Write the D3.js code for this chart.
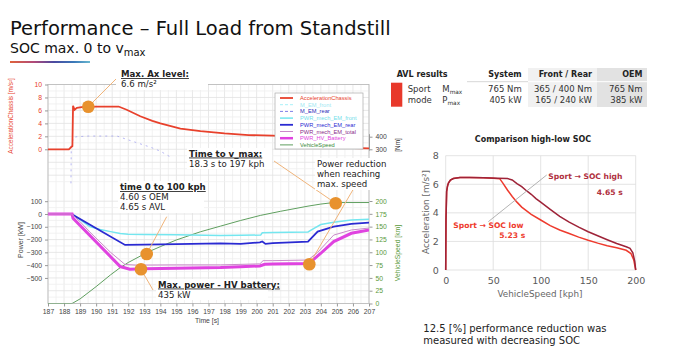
<!DOCTYPE html>
<html><head><meta charset="utf-8">
<script src="https://cdn.jsdelivr.net/npm/d3@7/dist/d3.min.js"></script>
<style>
body{margin:0;background:#fff}
svg{display:block;font-family:"DejaVu Sans",Verdana,sans-serif}
</style></head>
<body><svg id="c" width="676" height="359"></svg>
<script>
// ---------------- DATA ----------------
// Left chart: time axis [s]
const timeTicks = d3.range(187, 208, 1);
const accTicks = [0, 2, 4, 6, 8, 10];
const powTicks = [100, 0, -100, -200, -300, -400, -500];
const spdTicks = [0, 25, 50, 75, 100, 125, 150, 175, 200];
const nmTicks = [300, 400];

// AccelerationChassis [m/s²]
const tAcc = [187,188.3,188.45,188.52,188.56,188.66,188.8,189.2,190,191.4,191.9,192.75,193.5,194,195.25,196.5,198,199.5,201,202,203,203.8,204.5,205.2,206,207];
const accVals = [0,0,0.35,0.5,6.7,6.1,6.4,6.55,6.6,6.6,6.1,5.1,4.4,4.0,3.2,2.8,2.45,2.2,2.1,2.0,1.75,1.3,0.8,0.35,0.2,0.15];
// M_EM_rear [Nm]
const tNm = [188.43,188.45,188.6,188.8,189.5,190.5,191.3,192.3,193.4,194.0,194.6];
const nmVals = [30,330,395,400,405,405,405,362,316,285,241];
// PWR_mech_EM_front [kW]
const tFront = [187,188.5,189.0,189.6,190.25,190.9,191.5,192,193,195,197.75,199,200.25,200.35,201,203.2,203.6,204,204.8,205.9,207];
const pFront = [0,0,-45,-99,-122,-138,-152,-158,-160,-162,-168,-166,-165,-147,-145,-140,-110,-82,-65,-47,-42];
// PWR_mech_EM_rear [kW]
const tRear = [187,188.45,191.8,193,195,197.75,199,200.2,200.35,200.55,201,203.2,203.8,204.8,205.9,207];
const pRear = [0,0,-242,-240,-236,-230,-233,-222,-215,-234,-228,-217,-138,-99,-78,-68];
// PWR_mech_EM_total [kW]
const tTotal = [187,188.45,189,189.6,190.9,191.8,192.5,195,197.75,200.2,200.4,201,203.2,203.8,204.8,205.9,207];
const pTotal = [0,0,-60,-140,-300,-395,-400,-398,-398,-390,-365,-365,-360,-300,-165,-125,-110];
// PWR_HV_Battery [kW]
const tBatt = [187,188.5,188.56,191.5,192.1,193,195,197.75,199,200.2,200.5,201,203.2,203.5,204,204.8,205.9,207];
const pBatt = [0,0,-34,-411,-432,-428,-425,-419,-412,-406,-393,-392,-388,-360,-307,-216,-151,-125];
// VehicleSpeed [kph]
const tSpd = [187,188.5,189,189.5,190,190.9,191.5,192,193.2,194,195,196.5,197.75,199,200.25,201.5,203.2,204,204.8,205.5,207];
const spdVals = [0,0,9,21,33,56,70,80,100,111,124,140,151,162,172,180,190,194,197,197,197];

const legendNames = ["AccelerationChassis","M_EM_front","M_EM_rear","PWR_mech_EM_front","PWR_mech_EM_rear","PWR_mech_EM_total","PWR_HV_Battery","VehicleSpeed"];

// Right chart: acceleration vs vehicle speed
const rxTicks = [0, 50, 100, 150, 200];
const ryTicks = [0, 2, 4, 6, 8];
const spdHigh = [0,0.3,1,2,3,5,8,15,25,40,55,65,70,75,80,85,90,95,100,110,120,130,140,150,160,170,180,190,194,197,199,200];
const accHigh = [0,3.5,5.5,5.9,6.1,6.3,6.4,6.48,6.47,6.45,6.42,6.4,6.3,6.05,5.83,5.55,5.3,5.0,4.75,4.25,3.75,3.35,3.0,2.68,2.4,2.12,1.85,1.63,1.52,1.2,0.6,0];
const spdLow = [0,0.3,1,2,3,5,8,15,25,40,50,57,60,65,70,75,80,90,100,110,120,130,140,150,160,170,180,190,195,198,200];
const accLow = [0,3.5,5.5,5.9,6.1,6.3,6.4,6.48,6.47,6.45,6.42,6.38,6.1,5.6,5.15,4.75,4.4,3.9,3.5,3.1,2.8,2.55,2.3,2.08,1.88,1.7,1.55,1.38,1.15,0.7,0];

// Table
const tableHead = ["AVL results","System","Front / Rear","OEM"];
const rowTorque = ["765 Nm","365 / 400 Nm","765 Nm"];
const rowPower = ["405 kW","165 / 240 kW","385 kW"];

// ---------------- DRAW ----------------
const svg = d3.select("#c");
const zip = (a,b)=>a.map((v,i)=>[v,b[i]]);

// Title
svg.append("text").attr("x",10).attr("y",35).attr("font-size",19.5).attr("fill","#111")
  .text("Performance – Full Load from Standstill");
const st = svg.append("text").attr("x",10).attr("y",52.5).attr("font-size",14).attr("fill","#111");
st.append("tspan").text("SOC max. 0 to v");
st.append("tspan").attr("font-size",10).attr("dy",3).text("max");
const grad = svg.append("defs").append("linearGradient").attr("id","ul");
[["0%","#e0623a"],["30%","#b04a7a"],["55%","#4a4aa0"],["80%","#3a78b8"],["100%","#6ab8d0"]]
  .forEach(s=>grad.append("stop").attr("offset",s[0]).attr("stop-color",s[1]));
svg.append("rect").attr("x",10).attr("y",61).attr("width",80).attr("height",2).attr("fill","url(#ul)");

// ---- Left chart ----
const x = d3.scaleLinear().domain([187,207]).range([48,369]);
const yAcc = d3.scaleLinear().domain([0,10]).range([149.3,84.5]);
const yNm = d3.scaleLinear().domain([300,400]).range([149.3,136.7]);
const yPow = d3.scaleLinear().domain([-700,100]).range([303.5,201.2]);
const ySpd = d3.scaleLinear().domain([0,200]).range([303.5,201]);

const L = svg.append("g");
// grid
d3.range(187,207.01,0.5).forEach(t=>{
  L.append("line").attr("x1",x(t)).attr("x2",x(t)).attr("y1",84.5).attr("y2",303.5)
   .attr("stroke", Number.isInteger(t) ? "#e2e2e2" : "#efefef").attr("stroke-width",0.8);
});
d3.range(-5,10.01,1).forEach(v=>{
  L.append("line").attr("x1",48).attr("x2",369).attr("y1",yAcc(v)).attr("y2",yAcc(v))
   .attr("stroke",v%2===0?"#e2e2e2":"#efefef").attr("stroke-width",0.8);
});
d3.range(-700,150,50).forEach(v=>{
  L.append("line").attr("x1",48).attr("x2",369).attr("y1",yPow(v)).attr("y2",yPow(v))
   .attr("stroke",v%100===0?"#e2e2e2":"#efefef").attr("stroke-width",0.8);
});
// frame
L.append("rect").attr("x",48).attr("y",84.5).attr("width",321).attr("height",219)
  .attr("fill","none").attr("stroke","#b8b8b8").attr("stroke-width",0.8);

// axes
function styleAxis(g,color){
  g.select(".domain").remove();
  g.selectAll("line").attr("stroke","#999");
  g.selectAll("text").attr("fill",color).attr("font-family","Liberation Sans, Arial, sans-serif").attr("font-size",6.8);
}
L.append("g").attr("transform","translate(48,0)")
  .call(d3.axisLeft(yAcc).tickValues(accTicks).tickSize(3).tickPadding(3))
  .call(g=>styleAxis(g,"#e8412c"));
L.append("g").attr("transform","translate(48,0)")
  .call(d3.axisLeft(yPow).tickValues(powTicks).tickSize(3).tickPadding(3))
  .call(g=>styleAxis(g,"#444"));
L.append("g").attr("transform","translate(0,303.5)")
  .call(d3.axisBottom(x).tickValues(timeTicks).tickFormat(d3.format("d")).tickSize(3).tickPadding(3))
  .call(g=>styleAxis(g,"#444"));
L.append("g").attr("transform","translate(369.5,0)")
  .call(d3.axisRight(ySpd).tickValues(spdTicks).tickSize(3).tickPadding(3))
  .call(g=>styleAxis(g,"#5a9a3a"));
L.append("line").attr("x1",369.5).attr("x2",369.5).attr("y1",yNm(420)).attr("y2",yNm(290)).attr("stroke","#999");
L.append("g").attr("transform","translate(369.5,0)")
  .call(d3.axisRight(yNm).tickValues(nmTicks).tickSize(3).tickPadding(3))
  .call(g=>styleAxis(g,"#444"));

// axis titles
const rot=(xx,yy,txt,col,fs)=>L.append("text").attr("transform",`translate(${xx},${yy}) rotate(-90)`)
  .attr("text-anchor","middle").attr("font-size",fs).attr("fill",col)
  .attr("font-family","Liberation Sans, Arial, sans-serif").text(txt);
rot(13,116,"AccelerationChassis [m/s²]","#e8412c",6.4);
rot(23,240,"Power [kW]","#444",7);
rot(400,253,"VehicleSpeed [km]","#5a9a3a",6.8);
rot(400,145,"[Nm]","#333",6.4);
L.append("text").attr("x",207).attr("y",323).attr("text-anchor","middle").attr("font-size",6.8)
  .attr("font-family","Liberation Sans, Arial, sans-serif").attr("fill","#444").text("Time [s]");

// lines
const clip = svg.append("defs").append("clipPath").attr("id","pc");
clip.append("rect").attr("x",48).attr("y",84.5).attr("width",321).attr("height",219);
const P = L.append("g").attr("clip-path","url(#pc)");
const line = (xs,ys,ysc)=>d3.line().x(d=>x(d[0])).y(d=>ysc(d[1]))(zip(xs,ys));
P.append("path").attr("d",line(tSpd,spdVals,ySpd)).attr("fill","none").attr("stroke","#5f9f5f").attr("stroke-width",1);
P.append("path").attr("d",line(tFront,pFront,yPow)).attr("fill","none").attr("stroke","#74e6ef").attr("stroke-width",1.5);
P.append("path").attr("d",line(tRear,pRear,yPow)).attr("fill","none").attr("stroke","#2a2ad2").attr("stroke-width",1.8);
P.append("path").attr("d",line(tBatt,pBatt,yPow)).attr("fill","none").attr("stroke","#e043e0").attr("stroke-width",3);
P.append("path").attr("d",line(tTotal,pTotal,yPow)).attr("fill","none").attr("stroke","#c98ac9").attr("stroke-width",1);
P.append("path").attr("d",line(tNm,nmVals,yNm)).attr("fill","none").attr("stroke","#9a9aee").attr("stroke-width",0.9).attr("stroke-dasharray","2,4").attr("opacity",0.8);
P.append("path").attr("d",line(tAcc,accVals,yAcc)).attr("fill","none").attr("stroke","#e8412c").attr("stroke-width",1.8);

// legend
const lg = L.append("g");
lg.append("rect").attr("x",275).attr("y",93).attr("width",88).attr("height",56).attr("fill","#fff").attr("stroke","#aaa").attr("stroke-width",0.7);
const legStyle = [
  {c:"#e8412c",t:"#e8412c",w:1.8,d:null},
  {c:"#a8f0f8",t:"#9ee8f2",w:1,d:"3,2"},
  {c:"#7f7fe6",t:"#2a2ab8",w:1,d:"3,2"},
  {c:"#74e6ef",t:"#74e0ea",w:1.5,d:null},
  {c:"#2a2ad2",t:"#2a2ad2",w:1.8,d:null},
  {c:"#c98ac9",t:"#8a2a8a",w:1,d:null},
  {c:"#e043e0",t:"#e043e0",w:2.5,d:null},
  {c:"#5f9f5f",t:"#3a8a3a",w:1,d:null}];
legendNames.forEach((n,i)=>{
  const yy = 98 + i*6.7;
  lg.append("line").attr("x1",280).attr("x2",293).attr("y1",yy).attr("y2",yy)
    .attr("stroke",legStyle[i].c).attr("stroke-width",legStyle[i].w).attr("stroke-dasharray",legStyle[i].d);
  lg.append("text").attr("x",300).attr("y",yy+2).attr("font-size",5.7)
    .attr("font-family","Liberation Sans, Arial, sans-serif").attr("fill",legStyle[i].t).text(n);
});

// annotations
const A = svg.append("g");
const orange="#e8922e", lead="#f0b47a";
const leaders = [[88.3,106.7,116,79],[146.7,254,166.7,216.7],[141,269.3,153,290],[274,161,335.7,203.3],[309.3,264.3,354,188]];
leaders.forEach(l=>A.append("line").attr("x1",l[0]).attr("y1",l[1]).attr("x2",l[2]).attr("y2",l[3]).attr("stroke",lead).attr("stroke-width",1));
[[88.3,106.7],[146.7,254],[141,269.3],[335.7,203.3],[309.3,264.3]].forEach(p=>
  A.append("circle").attr("cx",p[0]).attr("cy",p[1]).attr("r",6.3).attr("fill",orange));

function note(x0,y0,lines,bg){
  const g=A.append("g");
  if(bg) g.append("rect").attr("x",bg[0]).attr("y",bg[1]).attr("width",bg[2]).attr("height",bg[3]).attr("fill","#fff");
  lines.forEach((l,i)=>{
    g.append("text").attr("x",x0).attr("y",y0+i*10).attr("font-size",8.6)
     .attr("font-weight",l.b?"bold":"normal").attr("fill","#222")
     .style("text-decoration",l.b?"underline":"none").text(l.t);
  });
}
note(121,77,[{t:"Max. Ax level:",b:1},{t:"6.6 m/s²"}],[116,68,92,22]);
note(189,156.5,[{t:"Time to v_max:",b:1},{t:"18.3 s to 197 kph"}],[187,148,85,21]);
note(120,190,[{t:"time 0 to 100 kph",b:1},{t:"4.60 s OEM"},{t:"4.65 s AVL"}],[118,181,86,32]);
note(158,287.5,[{t:"Max. power - HV battery:",b:1},{t:"435 kW"}],[156,279,112,21]);
note(317,167.3,[{t:"Power reduction"},{t:"when reaching"},{t:"max. speed"}],[315,158,72,32]);

// ---- Table ----
const T = svg.append("g").attr("font-size",8.5).attr("fill","#333");
T.append("rect").attr("x",528).attr("y",68).attr("width",69).attr("height",39).attr("fill","#f1f1f1");
T.append("rect").attr("x",597).attr("y",68).attr("width",50).attr("height",39).attr("fill","#e2e2e2");
T.append("line").attr("x1",467).attr("x2",647).attr("y1",81.7).attr("y2",81.7).attr("stroke","#fff").attr("stroke-width",1);
T.append("line").attr("x1",467).attr("x2",528).attr("y1",81.7).attr("y2",81.7).attr("stroke","#ccc").attr("stroke-width",0.8);
T.append("rect").attr("x",391).attr("y",82.7).attr("width",11.3).attr("height",24).attr("fill","#e8392b");
const hb = (xx,txt,anchor)=>T.append("text").attr("x",xx).attr("y",76.7).attr("font-weight","bold").attr("font-size",8)
  .attr("text-anchor",anchor).attr("fill","#222").text(txt);
hb(396.7,tableHead[0],"start"); hb(521.7,tableHead[1],"end"); hb(592,tableHead[2],"end"); hb(642.5,tableHead[3],"end");
T.append("text").attr("x",407.7).attr("y",92.3).text("Sport");
T.append("text").attr("x",407.7).attr("y",103.3).text("mode");
const mm=T.append("text").attr("x",442.3).attr("y",92.3); mm.append("tspan").text("M"); mm.append("tspan").attr("font-size",5.8).attr("dy",2).text("max");
const pm=T.append("text").attr("x",442.3).attr("y",103.3); pm.append("tspan").text("P"); pm.append("tspan").attr("font-size",5.8).attr("dy",2).text("max");
[521.7,592,642.5].forEach((xx,i)=>{
  T.append("text").attr("x",xx).attr("y",92.3).attr("text-anchor","end").text(rowTorque[i]);
  T.append("text").attr("x",xx).attr("y",103.3).attr("text-anchor","end").text(rowPower[i]);
});

// ---- Right chart ----
const R = svg.append("g");
const rx = d3.scaleLinear().domain([0,200]).range([445.7,635.7]);
const ry = d3.scaleLinear().domain([0,8]).range([270,155.7]);
R.append("text").attr("x",533).attr("y",141.7).attr("text-anchor","middle").attr("font-size",8)
  .attr("font-weight","bold").attr("fill","#222").text("Comparison high-low SOC");
rxTicks.forEach(v=>R.append("line").attr("x1",rx(v)).attr("x2",rx(v)).attr("y1",ry(8)).attr("y2",ry(0)).attr("stroke","#dcdcdc").attr("stroke-width",0.8));
ryTicks.forEach(v=>R.append("line").attr("x1",rx(0)).attr("x2",rx(200)).attr("y1",ry(v)).attr("y2",ry(v)).attr("stroke","#dcdcdc").attr("stroke-width",0.8));
R.append("g").attr("transform",`translate(${rx(0)},0)`)
  .call(d3.axisLeft(ry).tickValues(ryTicks).tickSize(0).tickPadding(7))
  .call(g=>{g.select(".domain").remove();g.selectAll("text").attr("font-size",9.5).attr("fill","#595959").attr("font-family","DejaVu Sans, Verdana, sans-serif");});
R.append("g").attr("transform",`translate(0,${ry(0)})`)
  .call(d3.axisBottom(rx).tickValues(rxTicks).tickSize(0).tickPadding(7))
  .call(g=>{g.select(".domain").remove();g.selectAll("text").attr("font-size",9.5).attr("fill","#595959").attr("font-family","DejaVu Sans, Verdana, sans-serif");});
R.append("text").attr("x",540).attr("y",296.7).attr("text-anchor","middle").attr("font-size",8.8).attr("fill","#666").text("VehicleSpeed [kph]");
R.append("text").attr("transform","translate(428.5,212) rotate(-90)").attr("text-anchor","middle").attr("font-size",8.8).attr("fill","#666").text("Acceleration [m/s²]");
const rl = d3.line().x(d=>rx(d[0])).y(d=>ry(d[1]));
R.append("path").attr("d",rl(zip(spdLow,accLow))).attr("fill","none").attr("stroke","#ee3b2e").attr("stroke-width",1.5);
R.append("path").attr("d",rl(zip(spdHigh,accHigh))).attr("fill","none").attr("stroke","#9e2338").attr("stroke-width",1.5);
R.append("line").attr("x1",488.3).attr("y1",221.7).attr("x2",546.7).attr("y2",175).attr("stroke","#aaa").attr("stroke-width",0.9);
R.append("text").attr("x",548.3).attr("y",179).attr("font-size",7.6).attr("font-weight","bold").attr("fill","#b03040").text("Sport → SOC high");
R.append("text").attr("x",622.7).attr("y",195).attr("text-anchor","end").attr("font-size",7.6).attr("font-weight","bold").attr("fill","#b03040").text("4.65 s");
R.append("text").attr("x",453.3).attr("y",227.7).attr("font-size",7.6).attr("font-weight","bold").attr("fill","#ee3b2e").text("Sport → SOC low");
R.append("text").attr("x",499.3).attr("y",238.3).attr("font-size",7.6).attr("font-weight","bold").attr("fill","#ee3b2e").text("5.23 s");

// bottom note
svg.append("text").attr("x",423.3).attr("y",331.7).attr("font-size",10).attr("fill","#222").text("12.5 [%] performance reduction was");
svg.append("text").attr("x",423.3).attr("y",344).attr("font-size",10).attr("fill","#222").text("measured with decreasing SOC");
</script></body></html>
